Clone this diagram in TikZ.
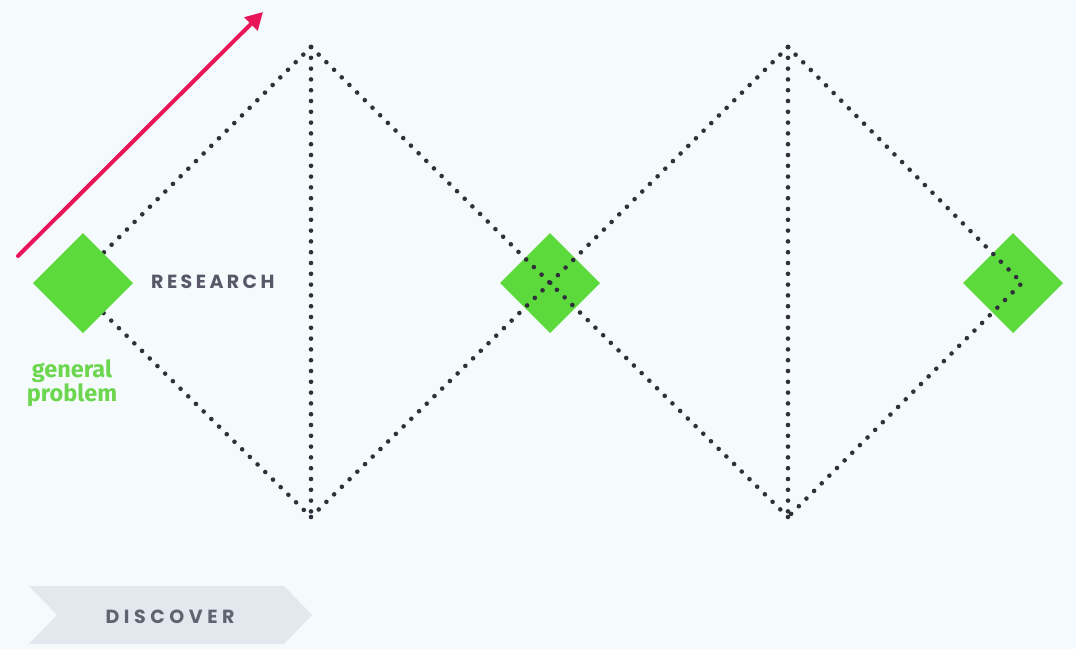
\documentclass[tikz,border=0pt]{standalone}
\usepackage{fontspec}
\usetikzlibrary{arrows.meta}
\newfontfamily\labfont[LetterSpace=18]{Poppins}
\newfontfamily\labfontb[LetterSpace=24]{Poppins}
\newfontfamily\grfont{Fira Sans}
\definecolor{bgc}{RGB}{245,250,253}
\definecolor{sqc}{RGB}{92,218,60}
\definecolor{dotc}{RGB}{48,48,58}
\definecolor{redc}{RGB}{232,22,88}
\definecolor{labc}{RGB}{88,88,104}
\definecolor{grtxt}{RGB}{108,214,78}
\definecolor{bannerc}{RGB}{227,232,238}
\tikzset{
  dotline/.style={draw=dotc, line width=4.6pt, line cap=round, dash pattern=on 0pt off 10.8pt},
  gsq/.style={fill=sqc, draw=none, minimum size=70.7pt, inner sep=0pt, rotate=45},
  lab/.style={font=\labfont\bfseries\fontsize{19}{22}\selectfont, text=labc, inner sep=0pt},
}
\begin{document}
\begin{tikzpicture}[x=1pt,y=-1pt]
\fill[bgc] (0,0) rectangle (1076,649);
\useasboundingbox (0,0) rectangle (1076,649);
% coordinates
\coordinate (t1) at (311,47);
\coordinate (b1) at (311,517);
\coordinate (l1) at (73,283);
\coordinate (m) at (550,283);
\coordinate (t2) at (788,47);
\coordinate (b2) at (788,517);
\coordinate (r2) at (1022,283);
% squares under dots
\node[gsq] (s2) at (550,283) {};
\node[gsq] (s3) at (1013,283) {};
% dotted diamonds
\draw[dotline] (t1) -- (l1) -- (b1);
\draw[dotline] (t1) -- (b1);
\draw[dotline] (t1) -- (m) -- (b2);
\draw[dotline] (b1) -- (m) -- (t2);
\draw[dotline] (t2) -- (b2);
\draw[dotline] (t2) -- (r2) -- (b2);
% left square on top
\node[gsq] (s1) at (83,283) {};
% red arrow
\coordinate (a0) at (18,256);
\coordinate (a1) at (263,12);
\draw[redc, line width=4pt, line cap=round, -{Triangle[length=17pt,width=18pt]}] (a0) -- (a1);
% labels
\node[lab, anchor=west] (research) at (151,282) {RESEARCH};
\node[align=center, text=grtxt, font=\grfont\bfseries\fontsize{23.5}{22}\selectfont, inner sep=0pt] (gp) at (72,383) {general\\problem};
% banner
\fill[bannerc] (29,586) -- (284,586) -- (312,615) -- (284,644) -- (29,644) -- (57,615) -- cycle;
\node[lab, font=\labfontb\bfseries\fontsize{19}{22}\selectfont, text={rgb,255:red,94;green,100;blue,112}] (discover) at (170,617) {DISCOVER};
\end{tikzpicture}
\end{document}
